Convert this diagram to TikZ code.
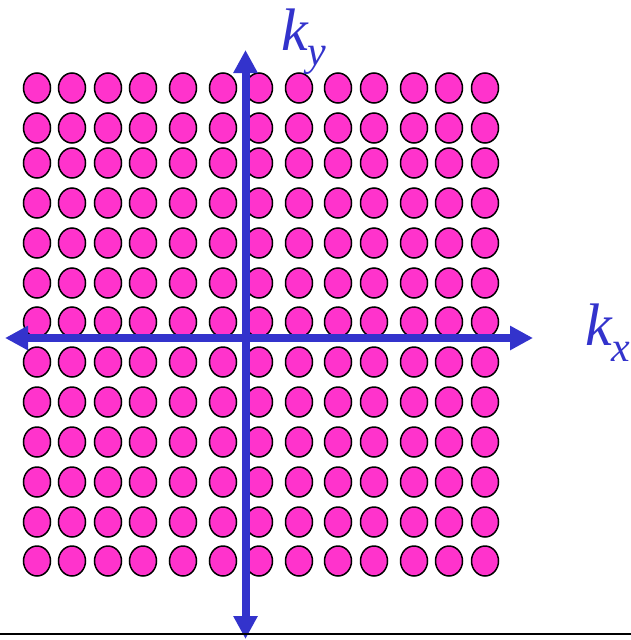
\documentclass[tikz,border=0pt]{standalone}
\usepackage{fontspec}
\setmainfont{Liberation Serif}
\usetikzlibrary{arrows.meta}
\definecolor{axisblue}{RGB}{51,51,204}
\definecolor{dotpink}{RGB}{255,51,204}
\begin{document}
\begin{tikzpicture}[x=1pt, y=-1pt,
  dot/.style={draw=black, line width=1.5pt, fill=dotpink},
  axis/.style={draw=axisblue, line width=8pt,
    arrows={Triangle[length=23pt,width=23pt]-Triangle[length=23pt,width=23pt]}},
  klabel/.style={text=axisblue, inner sep=0pt, anchor=base west,
    font=\fontsize{60}{60}\selectfont\itshape}]
\useasboundingbox (0,0) rectangle (631,640);
% lattice of states
\foreach \y in {88,128,163,203,243,283,322,362,402,442,482,522,561}
  \foreach \x in {37,72,108,143,183,223,259,299,338,374,414,449,485}
    \draw[dot] (\x,\y) ellipse [x radius=13.5pt, y radius=15pt];
% axes
\coordinate (xl) at (5,338);
\coordinate (xr) at (533,338);
\coordinate (yt) at (245.5,50);
\coordinate (yb) at (245.5,639);
\draw[axis] (xl) -- (xr);
\draw[axis] (yb) -- (yt);
\node[klabel] (ky) at (281,50) {k\raisebox{-15pt}{\fontsize{42}{42}\selectfont y}};
\node[klabel] (kx) at (585,345) {k\raisebox{-16pt}{\fontsize{42}{42}\selectfont x}};
% base line
\coordinate (bl) at (0,634);
\coordinate (br) at (631,634);
\draw[line width=2pt] (bl) -- (br);
\end{tikzpicture}
\end{document}
